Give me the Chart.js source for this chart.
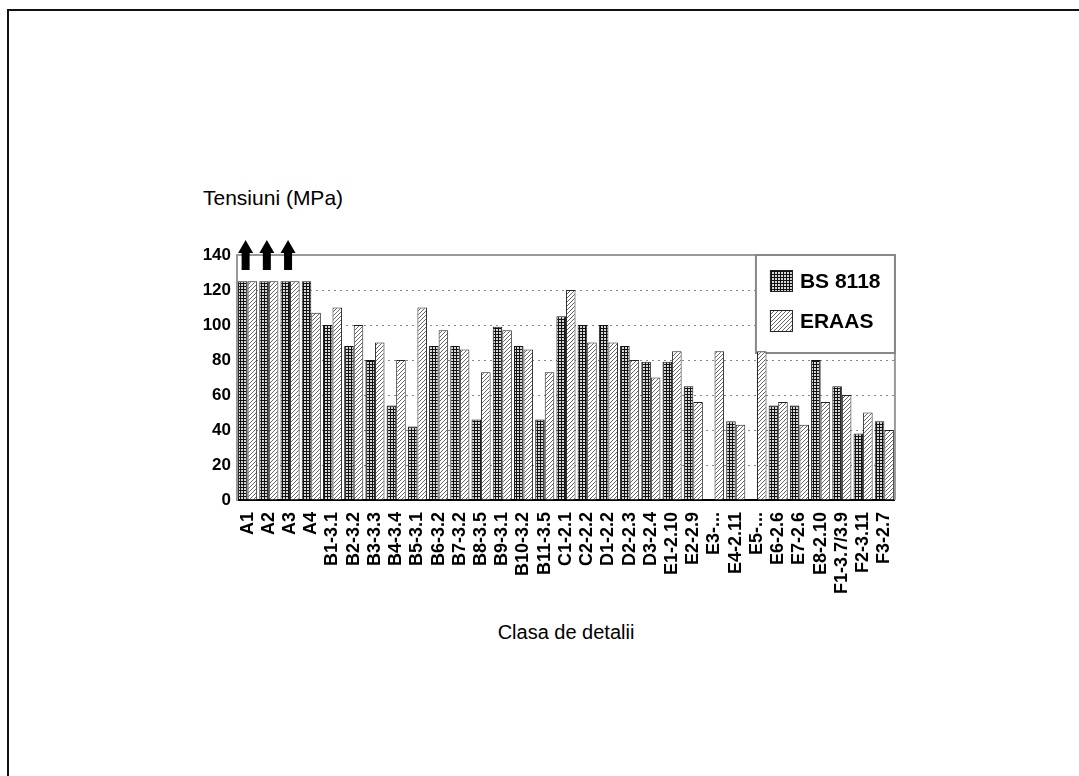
<!DOCTYPE html>
<html>
<head>
<meta charset="utf-8">
<script src="https://cdn.jsdelivr.net/npm/chart.js@4.4.0/dist/chart.umd.min.js"></script>
<style>
    body { margin: 0; background: #fff; width: 1079px; height: 776px; overflow: hidden; position: relative;
           font-family: "Liberation Sans", Arial, sans-serif; color: #000; }
    #frame { position: absolute; left: 7px; top: 9px; width: 1200px; height: 900px;
             border-top: 2px solid #111; border-left: 2px solid #111; }
    #ytitle { position: absolute; left: 203px; top: 186px; font-size: 21px; white-space: nowrap; }
    #xtitle { position: absolute; left: 466px; width: 200px; top: 621px; font-size: 20px; text-align: center; }
    #chartBox { position: absolute; left: 195px; top: 238px; width: 715px; height: 371px; overflow: hidden; }
</style>
</head>
<body>
<div id="frame"></div>
<div id="ytitle">Tensiuni (MPa)</div>
<div id="chartBox"><canvas id="detailChart" width="715" height="371"></canvas></div>
<div id="xtitle">Clasa de detalii</div>

<script>
// values (MPa); null = no bar
const categories = ['A1', 'A2', 'A3', 'A4', 'B1-3.1', 'B2-3.2', 'B3-3.3', 'B4-3.4', 'B5-3.1', 'B6-3.2',
    'B7-3.2', 'B8-3.5', 'B9-3.1', 'B10-3.2', 'B11-3.5', 'C1-2.1', 'C2-2.2', 'D1-2.2', 'D2-2.3', 'D3-2.4',
    'E1-2.10', 'E2-2.9', 'E3-...', 'E4-2.11', 'E5-...', 'E6-2.6', 'E7-2.6', 'E8-2.10', 'F1-3.7/3.9', 'F2-3.11', 'F3-2.7'];
const bs8118 = [125, 125, 125, 125, 100, 88, 80, 54, 42, 88,
    88, 46, 99, 88, 46, 105, 100, 100, 88, 79,
    79, 65, null, 45, null, 54, 54, 80, 65, 38, 45];
const eraas = [125, 125, 125, 107, 110, 100, 90, 80, 110, 97,
    86, 73, 97, 86, 73, 120, 90, 90, 80, 70,
    85, 56, 85, 43, 85, 56, 43, 56, 60, 50, 40];
const offScale = ['A1', 'A2', 'A3'];   // values beyond the axis, marked with arrows
const yTicks = [0, 20, 40, 60, 80, 100, 120, 140];

Chart.defaults.font.family = '"Liberation Sans", Arial, sans-serif';
Chart.defaults.color = '#000';

function makePattern(kind) {
    const c = document.createElement('canvas');
    const g = c.getContext('2d');
    if (kind === 'grid') {
        c.width = 3; c.height = 3;
        g.fillStyle = '#d8d8d8'; g.fillRect(0, 0, 3, 3);
        g.fillStyle = '#111';
        g.fillRect(0, 0, 3, 1);
        g.fillRect(0, 0, 1, 3);
    } else {
        c.width = 4; c.height = 4;
        g.fillStyle = '#fff'; g.fillRect(0, 0, 4, 4);
        g.strokeStyle = '#666'; g.lineWidth = 1;
        g.beginPath();
        g.moveTo(0, 4); g.lineTo(4, 0);
        g.moveTo(-1, 1); g.lineTo(1, -1);
        g.moveTo(3, 5); g.lineTo(5, 3);
        g.stroke();
    }
    return g.createPattern(c, 'repeat');
}

// gray frame on top and right of the plot
const plotFrame = {
    id: 'plotFrame',
    beforeDatasetsDraw(chart) {
        const a = chart.chartArea, ctx = chart.ctx;
        ctx.save();
        ctx.strokeStyle = '#999';
        ctx.lineWidth = 2;
        ctx.beginPath();
        ctx.moveTo(a.left, a.top);
        ctx.lineTo(a.right, a.top);
        ctx.lineTo(a.right, a.bottom);
        ctx.stroke();
        ctx.restore();
    }
};

// boxed legend in the top right corner of the plot
const boxLegend = {
    id: 'boxLegend',
    beforeDatasetsDraw(chart, args, opts) {
        const a = chart.chartArea, ctx = chart.ctx;
        const x = a.right - opts.width, y = a.top;
        ctx.save();
        ctx.fillStyle = '#fff';
        ctx.fillRect(x, y, opts.width, opts.height);
        ctx.strokeStyle = '#888';
        ctx.lineWidth = 2;
        ctx.strokeRect(x, y, opts.width, opts.height);
        ctx.font = opts.font;
        ctx.textBaseline = 'middle';
        chart.data.datasets.forEach((ds, i) => {
            const cy = y + opts.firstRow + i * opts.rowGap;
            ctx.fillStyle = ds.backgroundColor;
            ctx.fillRect(x + 14, cy - 11, 23, 22);
            ctx.strokeStyle = '#222';
            ctx.lineWidth = 1;
            ctx.strokeRect(x + 14.5, cy - 10.5, 22, 21);
            ctx.fillStyle = '#000';
            ctx.fillText(ds.label, x + 44, cy + 1);
        });
        ctx.restore();
    }
};

// up arrows over the bars that run off the scale
const arrows = {
    id: 'arrows',
    afterDatasetsDraw(chart) {
        const xs = chart.scales.x, ys = chart.scales.y, ctx = chart.ctx;
        const top = ys.getPixelForValue(ys.max) - 15;
        ctx.save();
        ctx.fillStyle = '#000';
        offScale.forEach(label => {
            const x = xs.getPixelForValue(categories.indexOf(label)) - 2;
            ctx.beginPath();
            ctx.moveTo(x, top);
            ctx.lineTo(x + 7.5, top + 13);
            ctx.lineTo(x + 4, top + 13);
            ctx.lineTo(x + 4, top + 30);
            ctx.lineTo(x - 4, top + 30);
            ctx.lineTo(x - 4, top + 13);
            ctx.lineTo(x - 7.5, top + 13);
            ctx.closePath();
            ctx.fill();
        });
        ctx.restore();
    }
};

const ctx = document.getElementById('detailChart').getContext('2d');
const detailChart = new Chart(ctx, {
    type: 'bar',
    data: {
        labels: categories,
        datasets: [
            {
                label: 'BS 8118',
                data: bs8118,
                backgroundColor: makePattern('grid'),
                borderColor: '#111',
                borderWidth: 1,
                categoryPercentage: 0.9,
                barPercentage: 1.0
            },
            {
                label: 'ERAAS',
                data: eraas,
                backgroundColor: makePattern('hatch'),
                borderColor: '#222',
                borderWidth: 1,
                categoryPercentage: 0.9,
                barPercentage: 1.0
            }
        ]
    },
    options: {
        responsive: false,
        animation: false,
        devicePixelRatio: 1,
        layout: { padding: { left: 0, right: 5, top: 17, bottom: 0 } },
        plugins: {
            legend: { display: false },
            tooltip: { enabled: false },
            boxLegend: { width: 139, height: 98, firstRow: 26, rowGap: 40, font: 'bold 21px "Liberation Sans", Arial, sans-serif' }
        },
        scales: {
            x: {
                grid: { display: false },
                border: { display: true, color: '#000', width: 2 },
                ticks: {
                    autoSkip: false,
                    minRotation: 90,
                    maxRotation: 90,
                    padding: 4,
                    color: '#000',
                    font: { size: 18, weight: 'bold' }
                },
                afterFit: s => { s.height = 109; }
            },
            y: {
                min: 0,
                max: 140,
                afterBuildTicks: s => { s.ticks = yTicks.map(v => ({ value: v })); },
                grid: {
                    color: '#888',
                    lineWidth: 1,
                    drawTicks: false
                },
                border: { display: true, color: '#999', width: 2, dash: [2, 4] },
                ticks: {
                    padding: 6,
                    color: '#000',
                    font: { size: 17, weight: 'bold' }
                },
                afterFit: s => { s.width = 42; }
            }
        }
    },
    plugins: [plotFrame, boxLegend, arrows]
});
</script>
</body>
</html>
